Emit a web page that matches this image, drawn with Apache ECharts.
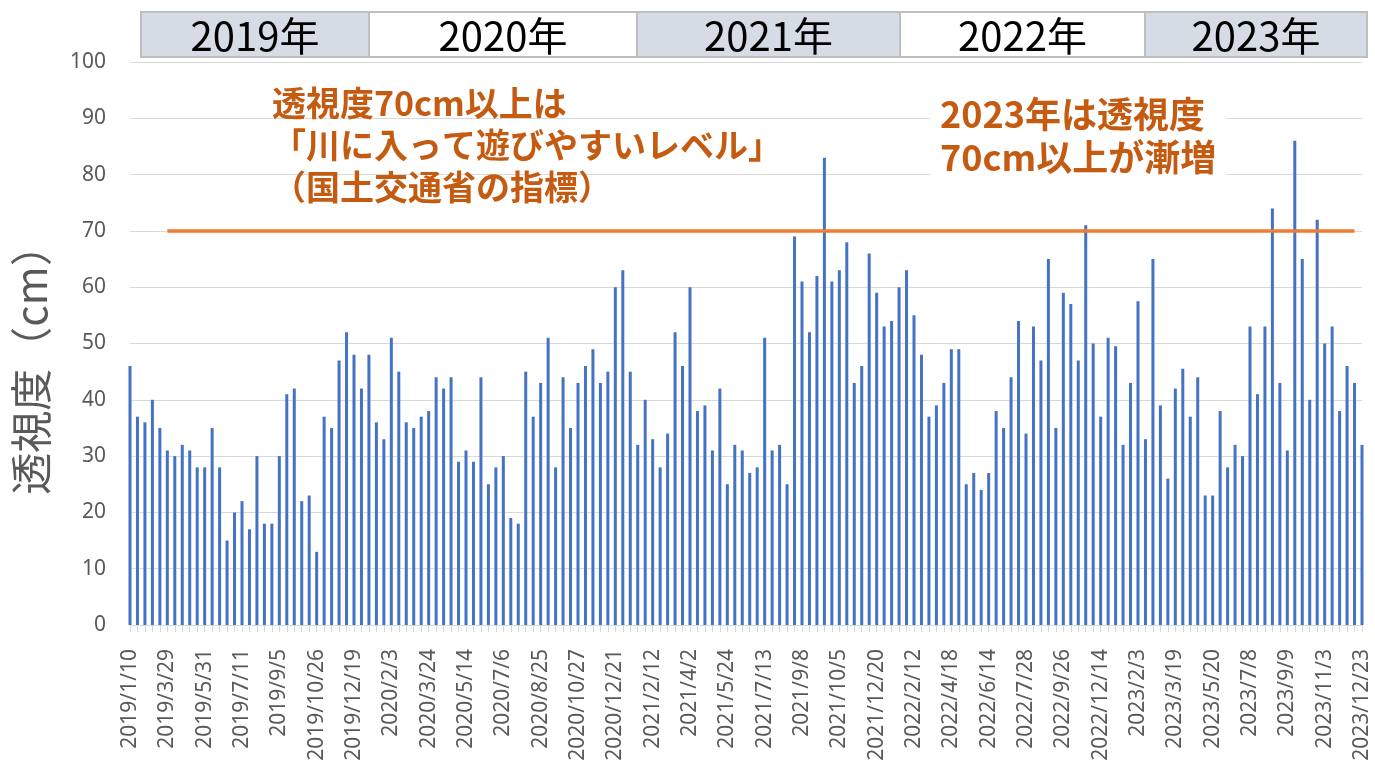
<!DOCTYPE html>
<html>
<head>
<meta charset="utf-8">
<script src="https://cdn.jsdelivr.net/npm/echarts@6/dist/echarts.min.js"></script>
<style>
  html, body { margin: 0; padding: 0; background: #ffffff; }
  #chart { width: 1375px; height: 765px; }
</style>
</head>
<body>
<div id="chart"></div>
<script>
// Tick labels shown on the x axis (every 5th observation)
const tickLabels = [
  '2019/1/10','2019/3/29','2019/5/31','2019/7/11','2019/9/5','2019/10/26','2019/12/19',
  '2020/2/3','2020/3/24','2020/5/14','2020/7/6','2020/8/25','2020/10/27','2020/12/21',
  '2021/2/12','2021/4/2','2021/5/24','2021/7/13','2021/9/8','2021/10/5','2021/12/20',
  '2022/2/12','2022/4/18','2022/6/14','2022/7/28','2022/9/26','2022/12/14',
  '2023/2/3','2023/3/19','2023/5/20','2023/7/8','2023/9/9','2023/11/3','2023/12/23'
];

// 透視度 (cm), one value per observation
const transparency = [
  46, 37, 36, 40, 35, 31, 30, 32, 31, 28,
  28, 35, 28, 15, 20, 22, 17, 30, 18, 18,
  30, 41, 42, 22, 23, 13, 37, 35, 47, 52,
  48, 42, 48, 36, 33, 51, 45, 36, 35, 37,
  38, 44, 42, 44, 29, 31, 29, 44, 25, 28,
  30, 19, 18, 45, 37, 43, 51, 28, 44, 35,
  43, 46, 49, 43, 45, 60, 63, 45, 32, 40,
  33, 28, 34, 52, 46, 60, 38, 39, 31, 42,
  25, 32, 31, 27, 28, 51, 31, 32, 25, 69,
  61, 52, 62, 83, 61, 63, 68, 43, 46, 66,
  59, 53, 54, 60, 63, 55, 48, 37, 39, 43,
  49, 49, 25, 27, 24, 27, 38, 35, 44, 54,
  34, 53, 47, 65, 35, 59, 57, 47, 71, 50,
  37, 51, 49.5, 32, 43, 57.5, 33, 65, 39, 26,
  42, 45.5, 37, 44, 23, 23, 38, 28, 32, 30,
  53, 41, 53, 74, 43, 31, 86, 65, 40, 72,
  50, 53, 38, 46, 43, 32
];

const years = ['2019年', '2020年', '2021年', '2022年', '2023年'];
const threshold = 70;
const annotation1 = ['透視度70cm以上は', '「川に入って遊びやすいレベル」', '（国土交通省の指標）'];
const annotation2 = ['2023年は透視度', '70cm以上が漸増'];

const categories = transparency.map((v, i) => (i % 5 === 0 ? tickLabels[i / 5] : '#' + i));

const FONT = "'Noto Sans', 'Noto Sans CJK JP', sans-serif";
const JP = "'Noto Sans CJK JP', 'Noto Sans', sans-serif";

// header boxes layout (pixels)
const boxEdges = [141, 369, 637, 900, 1145, 1367];
const boxFills = ['#d6dce5', '#ffffff', '#d6dce5', '#ffffff', '#d6dce5'];
const graphics = [];
years.forEach((y, i) => {
  graphics.push({
    type: 'rect',
    shape: { x: boxEdges[i], y: 12, width: boxEdges[i + 1] - boxEdges[i], height: 45 },
    style: { fill: boxFills[i], stroke: '#bfbfbf', lineWidth: 2 },
    z: 10
  });
  graphics.push({
    type: 'text',
    x: (boxEdges[i] + boxEdges[i + 1]) / 2,
    y: 36,
    style: { text: y, font: "40px " + JP, fill: '#000000', align: 'center', verticalAlign: 'middle' },
    z: 11
  });
});
graphics.push({
  type: 'text',
  x: 272, y: 82,
  style: {
    text: annotation1.join('\n'),
    font: "bold 34px " + JP,
    fill: '#c55a11',
    lineHeight: 42,
    align: 'left', verticalAlign: 'top'
  },
  z: 12
});
graphics.push({
  type: 'text',
  x: 930, y: 91,
  style: {
    text: annotation2.join('\n'),
    font: "bold 36px " + JP,
    fill: '#c55a11',
    lineHeight: 43,
    align: 'left', verticalAlign: 'top',
    backgroundColor: '#ffffff',
    padding: [2, 10, 2, 10]
  },
  z: 12
});

const chart = echarts.init(document.getElementById('chart'), null, { renderer: 'canvas' });
chart.setOption({
  animation: false,
  backgroundColor: '#ffffff',
  grid: { left: 130, right: 13, top: 62, bottom: 140, containLabel: false },
  xAxis: {
    type: 'category',
    data: categories,
    boundaryGap: false,
    axisLine: { show: true, lineStyle: { color: '#d9d9d9', width: 1 } },
    axisTick: { show: true, interval: 0, length: 7, lineStyle: { color: '#d9d9d9', width: 1 } },
    axisLabel: {
      interval: 4,
      rotate: 90,
      margin: 24,
      fontSize: 21,
      color: '#595959',
      fontFamily: FONT
    },
    splitLine: { show: false }
  },
  yAxis: {
    type: 'value',
    min: 0, max: 100, interval: 10,
    name: '透視度（cm）',
    nameLocation: 'middle',
    nameGap: 78,
    nameTextStyle: { fontSize: 42, color: '#595959', fontFamily: JP, padding: [0, 32, 0, 0] },
    axisLine: { show: false },
    axisTick: { show: false },
    axisLabel: { fontSize: 21, color: '#595959', margin: 24, fontFamily: FONT },
    splitLine: { show: true, lineStyle: { color: '#d9d9d9', width: 1 } }
  },
  series: [{
    type: 'bar',
    data: transparency,
    barWidth: 3,
    clip: false,
    itemStyle: { color: '#4472c4' },
    silent: true,
    markLine: {
      silent: true,
      symbol: ['none', 'none'],
      label: { show: false },
      lineStyle: { color: '#ed7d31', width: 3.5, type: 'solid' },
      data: [[{ coord: [5, threshold] }, { coord: [164, threshold] }]]
    }
  }],
  graphic: graphics
});
</script>
</body>
</html>
